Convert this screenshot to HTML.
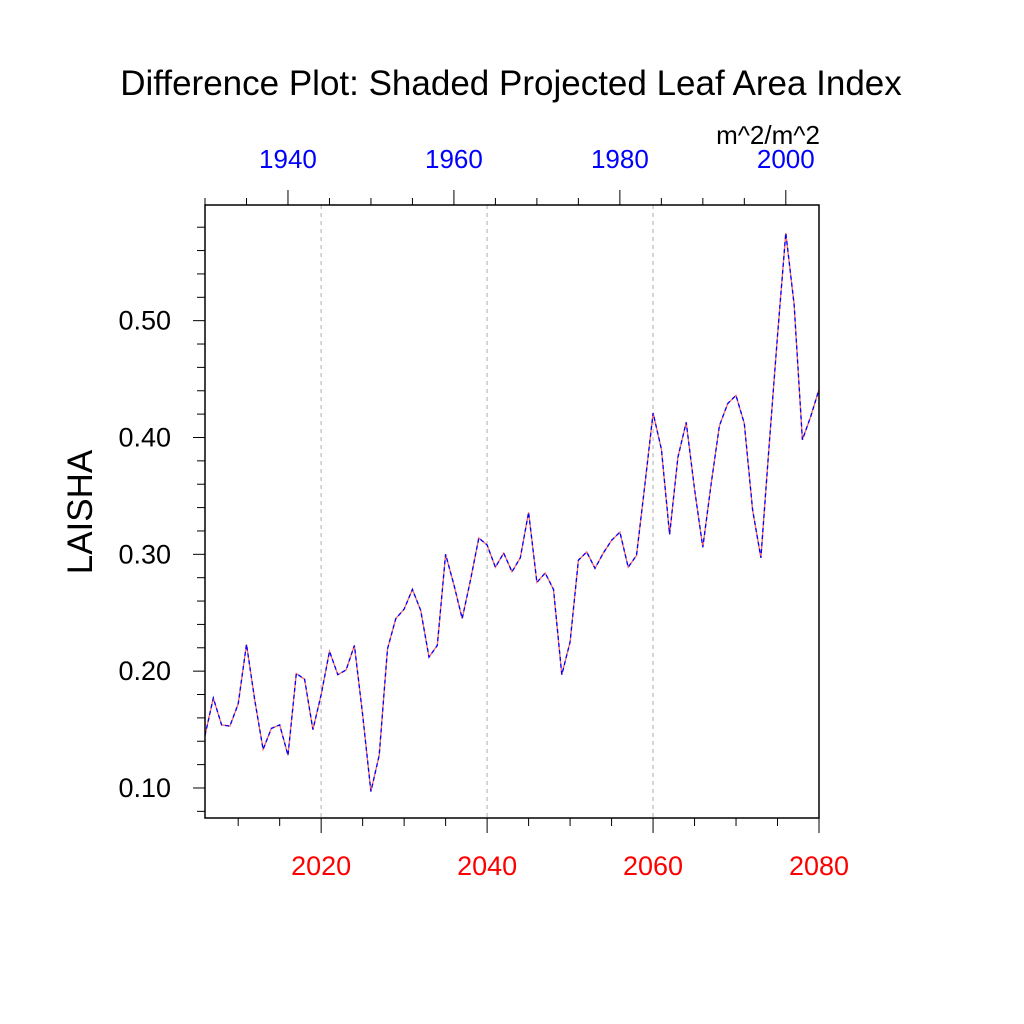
<!DOCTYPE html>
<html><head><meta charset="utf-8"><style>
html,body{margin:0;padding:0;background:#fff;}
svg{display:block;font-family:"Liberation Sans",sans-serif;}
</style></head><body>
<svg id="chart" width="1024" height="1024" viewBox="0 0 1024 1024">
<text x="511" y="95" font-size="35" text-anchor="middle">Difference Plot: Shaded Projected Leaf Area Index</text>
<text x="768" y="144" font-size="26" text-anchor="middle">m^2/m^2</text>
<text transform="translate(92,512) rotate(-90)" font-size="35" text-anchor="middle">LAISHA</text>
<g id="grid"></g><g id="axes"></g><g id="series"></g>
<rect x="205" y="205" width="614" height="613" fill="none" stroke="#000" stroke-width="1.5"/>
</svg>
<script>
const years = [];
for (let y = 2006; y <= 2080; y++) years.push(y);
const laisha = [0.145,0.177,0.154,0.153,0.172,0.223,0.175,0.133,0.151,0.154,0.128,0.198,0.193,0.150,0.180,0.217,0.197,0.201,0.222,0.163,0.097,0.128,0.219,0.245,0.253,0.270,0.252,0.212,0.222,0.300,0.274,0.245,0.278,0.314,0.308,0.289,0.301,0.285,0.297,0.336,0.276,0.284,0.270,0.197,0.225,0.295,0.302,0.288,0.301,0.312,0.319,0.289,0.299,0.359,0.421,0.390,0.317,0.383,0.413,0.356,0.306,0.360,0.410,0.429,0.436,0.412,0.338,0.297,0.394,0.487,0.575,0.514,0.398,0.418,0.441];
const yTicks = [0.10,0.20,0.30,0.40,0.50];
const yTickLabels = ["0.10","0.20","0.30","0.40","0.50"];
const bottomTicks = [2020,2040,2060,2080];
const topTicks = [1940,1960,1980,2000];
const topOffset = 76;

const X0=205,X1=819,Y0=818,Y1=205;
const xMin=2006,xMax=2080,yMin=0.0743,yMax=0.599;
const sx=v=>X0+(v-xMin)/(xMax-xMin)*(X1-X0);
const sy=v=>Y0-(v-yMin)/(yMax-yMin)*(Y0-Y1);
const NS="http://www.w3.org/2000/svg";
function mk(tag,attrs,parent,text){const e=document.createElementNS(NS,tag);for(const k in attrs)e.setAttribute(k,attrs[k]);if(text!=null)e.textContent=text;parent.appendChild(e);return e;}
const grid=document.getElementById('grid'),axes=document.getElementById('axes'),series=document.getElementById('series');

bottomTicks.forEach(t=>{
  if(t<xMax){const g=mk('line',{x1:sx(t),x2:sx(t),y1:Y1,y2:Y0,stroke:'#bbb','stroke-width':1.2,'stroke-dasharray':'4,4'},grid);
  
  }
});
for(let t=2010;t<=2080;t+=5){
  const major=bottomTicks.includes(t);
  const l=mk('line',{x1:sx(t),x2:sx(t),y1:Y0,y2:Y0+(major?15:8),stroke:'#000','stroke-width':1},axes);
  
  
}
bottomTicks.forEach(t=>{
  const tx=mk('text',{x:sx(t),y:875,'font-size':27,fill:'#f00','text-anchor':'middle'},axes,String(t));
  
  
});
for(let t=1930;t<=2004;t+=5){
  const major=topTicks.includes(t);
  const l=mk('line',{x1:sx(t+topOffset),x2:sx(t+topOffset),y1:Y1,y2:Y1-(major?15:7),stroke:'#000','stroke-width':1},axes);
  
  
}
topTicks.forEach(t=>{
  const tx=mk('text',{x:sx(t+topOffset),y:168,'font-size':26,fill:'#00f','text-anchor':'middle'},axes,String(t));
  
  
});
for(let i=4;i<=58;i+=2){
  const v=i/100; if(v<yMin||v>yMax) continue;
  const major=(i%10===0);
  const l=mk('line',{x1:X0-(major?12:8),x2:X0,y1:sy(v),y2:sy(v),stroke:'#000','stroke-width':1},axes);
  
  
}
yTicks.forEach((v,i)=>{
  const tx=mk('text',{x:171,y:sy(v)+9,'font-size':27,'text-anchor':'end'},axes,yTickLabels[i]);
  
  
});
const pts=years.map((y,i)=>sx(y).toFixed(1)+','+sy(laisha[i]).toFixed(1)).join(' ');
const a=mk('polyline',{points:pts,fill:'none',stroke:'#f66','stroke-width':1.3},series);


const b=mk('polyline',{points:pts,fill:'none',stroke:'#00f','stroke-width':1.3,'stroke-dasharray':'4,3'},series);


</script>
</body></html>
